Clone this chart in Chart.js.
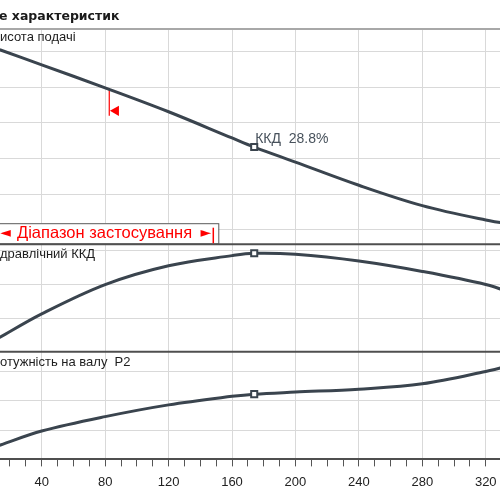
<!DOCTYPE html>
<html><head><meta charset="utf-8">
<script src="https://cdn.jsdelivr.net/npm/chart.js@4.4.1/dist/chart.umd.min.js"></script>
<style>
html,body{margin:0;padding:0;overflow:hidden;background:#fff;width:500px;height:500px}
#wrap{position:absolute;left:0;top:0;width:520px;height:500px}
</style></head><body>
<div id="wrap"><canvas id="c" width="520" height="500"></canvas></div>
<script>
// ---- data ----
const titleText = 'е характеристик';
const panelLabels = ['исота подачі', 'дравлічний ККД', 'отужність на валу  P2'];
const rangeText = 'Діапазон застосування';
const dutyLabel = 'ККД  28.8%';

const flowQ   = [0,    14,    40,    80,    120,   160,   174,   200,   240,   280,   320,   340];
const headH   = [14.5, 14.08, 13.25, 11.96, 10.62, 9.15,  8.64,  7.80,  6.50,  5.36,  4.55,  4.25];
const effEta  = [0.5,  4.4,   11.3,  20.0,  25.6,  28.6,  29.3,  29.0,  27.0,  23.9,  20.0,  16.9];
const powerP2 = [0.046,0.098, 0.193, 0.291, 0.371, 0.429, 0.444, 0.458, 0.478, 0.514, 0.598, 0.65];

const dutyQ = [174];
const dutyH = [8.64];
const dutyEta = [29.3];
const dutyP = [0.444];

const limitQ = 82.6;            // red limit marker on the head curve
const limitH = [11.88, 10.39];  // top (on curve) and bottom of red tick
const limitArrow = {q: 86.8, h: 10.67};
const rangeEndQ = 148.2;        // right end of application range

const xTicks = [20,30,40,50,60,70,80,90,100,110,120,130,140,150,160,170,180,190,200,210,220,230,240,250,260,270,280,290,300,310,320];
const headGrid = [4, 6, 8, 10, 12, 14];
const effGrid = [10, 20, 30];
const powerGrid = [0.2, 0.4, 0.6];

// ---- styles ----
const CURVE = '#3a444e';
const GRID = '#d9d9d9';
const FONT = '"Liberation Sans", Arial, sans-serif';

const pts = (ys) => flowQ.map((q, i) => ({x: q, y: ys[i]}));

const overlay = {
  id: 'overlay',
  beforeDatasetsDraw(chart) {
    const {ctx, chartArea} = chart;
    const {x, yH, yE, yP} = chart.scales;
    ctx.save();
    // panel separators
    ctx.lineWidth = 2;
    ctx.strokeStyle = '#a8a8a8';
    ctx.beginPath(); ctx.moveTo(chartArea.left, yH.top); ctx.lineTo(chartArea.right, yH.top); ctx.stroke();
    ctx.strokeStyle = '#4f4f4f';
    ctx.beginPath(); ctx.moveTo(chartArea.left, yH.bottom); ctx.lineTo(chartArea.right, yH.bottom); ctx.stroke();
    ctx.beginPath(); ctx.moveTo(chartArea.left, yE.bottom); ctx.lineTo(chartArea.right, yE.bottom); ctx.stroke();

    // panel labels
    ctx.fillStyle = '#1e1e1e';
    ctx.font = '13px ' + FONT;
    ctx.textBaseline = 'alphabetic';
    ctx.textAlign = 'left';
    ctx.fillText(panelLabels[0], 0, yH.top + 11.5);
    ctx.fillText(panelLabels[1], 0, yE.top + 13.3);
    ctx.fillText(panelLabels[2], 0, yP.top + 14);

    // application range box
    const xr = x.getPixelForValue(rangeEndQ);
    const bTop = yH.bottom - 21, bBot = yH.bottom - 1;
    ctx.fillStyle = '#fff';
    ctx.fillRect(-2, bTop, xr + 5 + 2, bBot - bTop);
    ctx.strokeStyle = '#5a5a5a';
    ctx.lineWidth = 1;
    ctx.strokeRect(-2, bTop + 0.5, xr + 5.5 + 2, bBot - bTop);
    ctx.fillStyle = '#ff0000';
    ctx.font = '14px "DejaVu Sans"';
    ctx.textBaseline = 'middle';
    ctx.fillText('◄', 0, bTop + 10.5);
    ctx.textAlign = 'right';
    ctx.fillText('►', xr - 2, bTop + 10.5);
    ctx.textAlign = 'left';
    ctx.font = '16.5px ' + FONT;
    ctx.textBaseline = 'alphabetic';
    ctx.fillText(rangeText, 17, bTop + 15);
    ctx.strokeStyle = '#ff0000';
    ctx.lineWidth = 1.5;
    ctx.beginPath(); ctx.moveTo(xr, bTop + 4.5); ctx.lineTo(xr, bBot); ctx.stroke();
    ctx.restore();
  },
  afterDatasetsDraw(chart) {
    const {ctx} = chart;
    const {x, yH} = chart.scales;
    ctx.save();
    const px = x.getPixelForValue(dutyQ[0]);
    const py = yH.getPixelForValue(dutyH[0]);
    ctx.font = '14px ' + FONT;
    ctx.fillStyle = '#48525c';
    ctx.textBaseline = 'alphabetic';
    ctx.fillText(dutyLabel, px + 1, py - 4);
    // title
    ctx.font = 'bold 12.5px "DejaVu Sans"';
    ctx.fillStyle = '#1a1a1a';
    ctx.fillText(titleText, -1, 20);
    ctx.restore();
  }
};

const yCommon = (grid) => ({
  type: 'linear', position: 'left', stack: 'panels',
  afterBuildTicks: a => { a.ticks = grid.map(v => ({value: v})); },
  ticks: {display: false},
  grid: {color: GRID, drawTicks: false, lineWidth: 1},
  border: {display: false}
});

const curveStyle = {borderColor: CURVE, borderWidth: 3, pointRadius: 0, tension: 0.35, fill: false, order: 2};

new Chart(document.getElementById('c'), {
  type: 'line',
  data: {
    datasets: [
      {type: 'scatter', data: [{x: dutyQ[0], y: dutyH[0]}], yAxisID: 'yH', pointStyle: 'rect', pointRadius: 4.3, borderWidth: 2, borderColor: CURVE, backgroundColor: '#fff', order: 0},
      {type: 'scatter', data: [{x: dutyQ[0], y: dutyEta[0]}], yAxisID: 'yE', pointStyle: 'rect', pointRadius: 4.3, borderWidth: 2, borderColor: CURVE, backgroundColor: '#fff', order: 0},
      {type: 'scatter', data: [{x: dutyQ[0], y: dutyP[0]}], yAxisID: 'yP', pointStyle: 'rect', pointRadius: 4.3, borderWidth: 2, borderColor: CURVE, backgroundColor: '#fff', order: 0},
      {type: 'scatter', data: [{x: limitArrow.q, y: limitArrow.h}], yAxisID: 'yH', pointStyle: 'triangle', rotation: -90, pointRadius: 6, borderWidth: 0, backgroundColor: '#ff0000', order: 1},
      {type: 'line', data: [{x: limitQ, y: limitH[0]}, {x: limitQ, y: limitH[1]}], yAxisID: 'yH', borderColor: '#ff0000', borderWidth: 1.2, pointRadius: 0, order: 3},
      Object.assign({type: 'line', data: pts(headH), yAxisID: 'yH'}, curveStyle),
      Object.assign({type: 'line', data: pts(effEta), yAxisID: 'yE'}, curveStyle),
      Object.assign({type: 'line', data: pts(powerP2), yAxisID: 'yP'}, curveStyle)
    ]
  },
  options: {
    responsive: false,
    animation: false,
    devicePixelRatio: 1,
    layout: {autoPadding: false, padding: {top: 29, left: 0, right: 0, bottom: 2}},
    plugins: {legend: {display: false}, tooltip: {enabled: false}, title: {display: false}},
    scales: {
      x: {
        type: 'linear', min: 13.7, max: 341.6, position: 'bottom',
        afterBuildTicks: a => { a.ticks = xTicks.map(v => ({value: v})); },
        ticks: {autoSkip: false, maxRotation: 0, padding: 8, color: '#222', font: {family: FONT, size: 13},
                callback: v => (v % 40 === 0 ? String(v) : '')},
        grid: {color: c => (c.tick && c.tick.value % 40 === 0) ? GRID : 'rgba(0,0,0,0)', tickColor: '#555', tickLength: 7, lineWidth: 1},
        border: {display: true, color: '#4f4f4f', width: 2}
      },
      yP: Object.assign(yCommon(powerGrid), {min: 0, max: 0.732, stackWeight: 1}),
      yE: Object.assign(yCommon(effGrid), {min: 0, max: 32, stackWeight: 1}),
      yH: Object.assign(yCommon(headGrid), {min: 3.198, max: 15.256, stackWeight: 2})
    }
  },
  plugins: [overlay]
});
</script>
</body></html>
